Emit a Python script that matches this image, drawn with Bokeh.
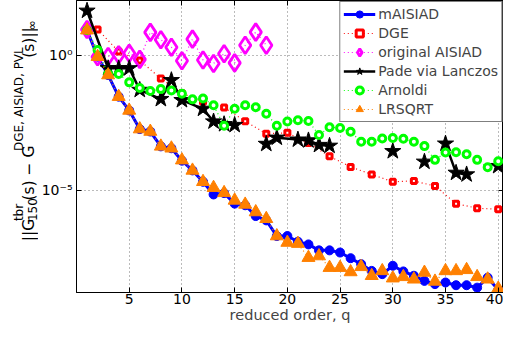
import math
from bokeh.plotting import figure
from bokeh.models import Range1d, FixedTicker, LinearAxis, LogAxis
from bokeh.layouts import row
from bokeh.core.properties import value
from bokeh.embed import file_html
from bokeh.resources import INLINE

nan = float("nan")

# ---------------- data (log10 of the error) ----------------
q_all = list(range(1, 41))
maisiad_log = [0.93, -0.05, -0.73, -1.53, -2.04, -2.73, -2.82, -3.37, -3.44, -3.90,
               -4.26, -4.68, -5.15, -5.10, -5.49, -5.55, -5.95, -6.11, -6.69, -6.69,
               -6.90, -7.00, -7.22, -7.22, -7.30, -7.51, -7.73, -7.98, -8.10, -7.79,
               -8.00, -8.16, -8.35, -8.47, -8.41, -8.51, -8.51, -8.60, -8.23, -8.68]
lrsqrt_log = [0.93, -0.05, -0.73, -1.53, -2.04, -2.73, -2.82, -3.37, -3.44, -3.88,
              -4.26, -4.68, -4.90, -5.09, -5.37, -5.52, -5.80, -6.05, -6.69, -6.93,
              -6.97, -7.49, -7.43, -7.86, -7.86, -8.02, -7.83, -8.16, -7.98, -8.25,
              -8.20, -8.29, -8.04, -8.37, -7.98, -7.98, -7.94, -8.20, -8.29, -8.63]
dge_q = list(range(2, 41, 2))
dge_log = [0.96, 0.14, -0.19, -0.86, -1.40, -1.72, -1.93, -2.44, -2.90, -2.87,
           -3.25, -3.74, -4.13, -4.41, -4.68, -4.65, -4.84, -5.49, -5.66, -5.70]
aisiad_q = list(range(1, 19))
aisiad_log = [0.96, -0.05, -0.04, 0.02, 0.08, -0.15, 0.85, 0.58, 0.30, -0.20,
              0.60, -0.17, -0.30, 0.06, -0.28, 0.37, 0.86, 0.37]
pade_q = [1, 3, 4, 5, 6, 8, 9, 10, 12, 13, 14, 15, 16, 18, 19, 21, 22, 23, 24, 25,
          30, 31, 33, 34, 35, 36, 37, 38, 40]
pade_log = [1.65, -0.48, -0.48, -0.48, -1.28, -1.62, -0.92, -1.66, -1.98, -2.45,
            -2.55, -2.58, nan, -3.28, -3.05, -3.12, -3.15, -3.32, -3.35, nan,
            -3.55, nan, -3.94, nan, -3.27, -4.35, -4.41, nan, -4.10]
arnoldi_log = [0.93, 0.20, -0.69, -0.69, -1.00, -1.21, -1.32, -1.25, -1.30, -1.42,
               -1.63, -1.60, -1.85, -2.61, -1.98, -1.85, -1.92, -2.16, -2.61, -2.45,
               -2.40, -2.43, -2.95, -2.66, -2.69, -2.83, -3.20, -3.20, -3.08, -3.06,
               -3.09, -3.20, -3.36, -3.87, -3.60, -3.59, -3.66, -3.87, -4.14, -3.92]

x_ticks = [5, 10, 15, 20, 25, 30, 35, 40]
y_ticks = [1e-5, 1e0]
y_tick_labels = ["10\u207b\u2075", "10\u2070"]
x_label = "reduced order, q"
names = ["mAISIAD", "DGE", "original AISIAD", "Pade via Lanczos", "Arnoldi", "LRSQRT"]


def lin(v):
    return [10 ** x if not math.isnan(x) else nan for x in v]


FONT = "DejaVu Sans"
HEIGHT = 325
LAB_W = 38
MAIN_W = 503 - LAB_W

p = figure(width=MAIN_W, height=HEIGHT, y_axis_type="log",
           x_range=Range1d(0, 40.5), y_range=Range1d(10 ** -8.78, 10 ** 2.03),
           output_backend="svg", toolbar_location=None,
           min_border_left=35, min_border_right=0, min_border_top=0, min_border_bottom=0)

p.background_fill_color = "white"
p.outline_line_color = "black"
p.outline_line_width = 1

# axes
p.xaxis.ticker = FixedTicker(ticks=x_ticks, minor_ticks=[])
p.yaxis.ticker = FixedTicker(ticks=y_ticks, minor_ticks=[])
p.yaxis.major_label_overrides = {t: l for t, l in zip(y_ticks, y_tick_labels)}
for ax in (p.xaxis[0], p.yaxis[0]):
    ax.major_tick_in = 5
    ax.major_tick_out = 0
    ax.minor_tick_in = 0
    ax.minor_tick_out = 0
    ax.axis_line_color = "black"
    ax.major_tick_line_color = "black"
    ax.major_label_text_font = FONT
    ax.major_label_text_font_size = "14px"
    ax.major_label_text_color = "black"
p.xaxis.major_label_standoff = 1
p.yaxis.major_label_standoff = 4
p.xaxis.axis_label = x_label
p.xaxis.axis_label_text_font = FONT
p.xaxis.axis_label_text_font_size = "14.5px"
p.xaxis.axis_label_text_font_style = "normal"
p.xaxis.axis_label_standoff = 0

# box ticks on the top and right sides (no labels)
top_ax = LinearAxis(ticker=FixedTicker(ticks=x_ticks, minor_ticks=[]),
                    major_label_text_font_size="1px", major_label_text_alpha=0,
                    major_label_standoff=0, major_tick_in=5, major_tick_out=0,
                    minor_tick_in=0, minor_tick_out=0, axis_line_color="black")
p.add_layout(top_ax, "above")
right_ax = LogAxis(ticker=FixedTicker(ticks=y_ticks, minor_ticks=[]),
                   major_label_text_font_size="1px", major_label_text_alpha=0,
                   major_label_standoff=0, major_tick_in=5, major_tick_out=0,
                   minor_tick_in=0, minor_tick_out=0, axis_line_color="black")
p.add_layout(right_ax, "right")

# grid
for g in (p.xgrid[0], p.ygrid[0]):
    g.grid_line_color = "#777777"
    g.grid_line_dash = "1 3"
    g.grid_line_width = 1
p.xgrid.ticker = FixedTicker(ticks=x_ticks, minor_ticks=[])
p.ygrid.ticker = FixedTicker(ticks=y_ticks, minor_ticks=[])

# series
blue, red, mag, blk, grn, orn = "#0000ff", "#ff0000", "#ff00ff", "#000000", "#00ff00", "#ff8000"

p.line(q_all, lin(maisiad_log), line_color=blue, line_width=3, legend_label=names[0])
p.scatter(q_all, lin(maisiad_log), marker="circle", size=9, fill_color=blue, line_color=blue,
          legend_label=names[0])

p.line(dge_q, lin(dge_log), line_color=red, line_width=1.2, line_dash="1 3", legend_label=names[1])
p.scatter(dge_q, lin(dge_log), marker="square", size=5, fill_color="white", line_color=red,
          line_width=3, legend_label=names[1])

p.line(aisiad_q, lin(aisiad_log), line_color=mag, line_width=1.2, line_dash="1 3", legend_label=names[2])
p.scatter(aisiad_q, lin(aisiad_log), marker="diamond", size=17,
          fill_color=None, line_color=mag, line_width=2.8, legend_label=names[2])

p.line(pade_q, lin(pade_log), line_color=blk, line_width=2.5, legend_label=names[3])
p.scatter(pade_q, lin(pade_log), marker="star", size=17, fill_color=blk, line_color=blk,
          legend_label=names[3])

p.line(q_all, lin(arnoldi_log), line_color=grn, line_width=1.2, line_dash="1 3", legend_label=names[4])
p.scatter(q_all, lin(arnoldi_log), marker="circle", size=7, fill_color="white", line_color=grn,
          line_width=3, legend_label=names[4])

p.line(q_all, lin(lrsqrt_log), line_color=orn, line_width=1.2, line_dash="1 3", legend_label=names[5])
p.scatter(q_all, lin(lrsqrt_log), marker="triangle", size=13, fill_color=orn, line_color=orn,
          legend_label=names[5])

# legend
lg = p.legend[0]
lg.location = "top_right"
lg.margin = 1
lg.padding = 3
lg.spacing = 1
lg.glyph_width = 32
lg.glyph_height = 18
lg.label_height = 18
lg.label_standoff = 3
lg.label_text_font = FONT
lg.label_text_font_size = "14px"
lg.border_line_color = "black"
lg.border_line_width = 1.2
lg.background_fill_color = "white"
lg.background_fill_alpha = 1.0

# ---------------- y label panel (separate narrow figure, pixel coordinates) ----------------
lab = figure(width=LAB_W, height=HEIGHT, x_range=Range1d(0, LAB_W), y_range=Range1d(0, HEIGHT),
             output_backend="svg", toolbar_location=None,
             x_axis_location=None, y_axis_location=None,
             min_border_left=0, min_border_right=0, min_border_top=0, min_border_bottom=0)
lab.grid.visible = False
lab.outline_line_color = None
lab.background_fill_color = "white"

W = {"|": .337, "G": .775, "(": .390, "s": .521, ")": .390, " ": .318, "\u2212": .838,
     "t": .392, "b": .635, "r": .411, "1": .636, "5": .636, "0": .636, "D": .770, "E": .632,
     ",": .318, "A": .684, "I": .295, "S": .635, "P": .603, "V": .684, "L": .557, "\u221e": .833}


def width(txt, size):
    return sum(W.get(c, .6) for c in txt) * size


F, S = 15.5, 12
base_x = 28.5
pos = HEIGHT - 268
pieces = []
pieces.append(("||G", F, 0, pos)); pos += width("||G", F)
pieces.append(("tbr", S, -10, pos))
pieces.append(("150", S, 3, pos)); pos += width("150", S)
pieces.append(("(s) \u2212 G", F, 0, pos)); pos += width("(s) \u2212 G", F)
pieces.append(("DGE, AISIAD, PVL", S, -10, pos)); pos += width("DGE, AISIAD, PVL", S)
pieces.append(("(s)||", F, 0, pos)); pos += width("(s)||", F)
pieces.append(("\u221e", S, 3, pos))
for txt, size, dx, yy in pieces:
    lab.text(x=[base_x + dx], y=[yy], text=[txt], angle=math.pi / 2,
             text_font=value(FONT), text_font_size=value(f"{size}px"),
             text_baseline="alphabetic", text_align="left", text_color="black")

layout = row(lab, p, spacing=0)
open("out.html", "w").write(file_html(layout, INLINE))
